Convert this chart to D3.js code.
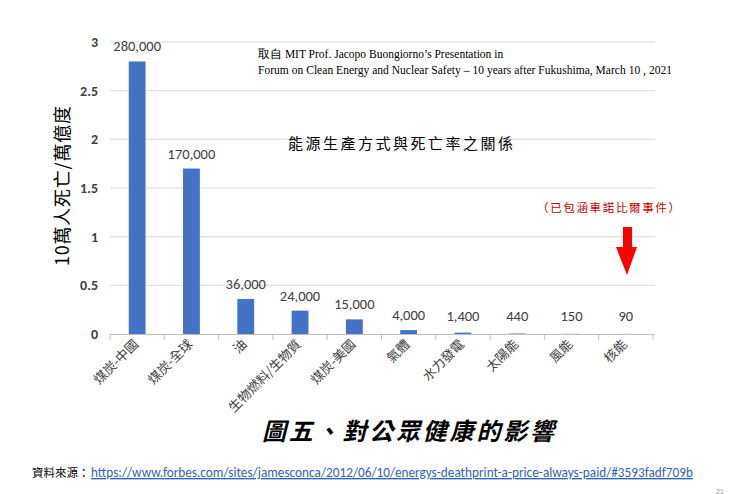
<!DOCTYPE html>
<html><head><meta charset="utf-8">
<script src="https://cdn.jsdelivr.net/npm/d3@7"></script>
<style>
body{margin:0;background:#fff;}
svg{display:block;}
</style></head>
<body><svg id="c" width="731" height="494"></svg>
<script>
const categories = ["煤炭-中國","煤炭-全球","油","生物燃料/生物質","煤炭-美國","氣體","水力發電","太陽能","風能","核能"];
const values = [2.8, 1.7, 0.36, 0.24, 0.15, 0.04, 0.014, 0.0044, 0.0015, 0.0009];
const valueLabels = ["280,000","170,000","36,000","24,000","15,000","4,000","1,400","440","150","90"];
const yTicks = [0, 0.5, 1, 1.5, 2, 2.5, 3];

const svg = d3.select("#c");
const pL = 110, pR = 653, pT = 42, pB = 334;
const x = d3.scaleBand().domain(categories).range([pL, pR]).paddingInner(0.69).paddingOuter(0.345);
const xb = d3.scaleBand().domain(categories).range([pL, pR]);
const y = d3.scaleLinear().domain([0, 3]).range([pB, pT]);

// gridlines
svg.append("g").selectAll("line").data(yTicks.filter(d=>d>0)).join("line")
  .attr("x1", pL).attr("x2", pR+2).attr("y1", d=>y(d)).attr("y2", d=>y(d))
  .attr("stroke", "#d9d9d9").attr("stroke-width", 1);

// y axis labels
const ya = svg.append("g").attr("transform", `translate(${pL},0)`)
  .call(d3.axisLeft(y).tickValues(yTicks).tickSize(0).tickPadding(12).tickFormat(d=>String(d)));
ya.select(".domain").remove();
ya.selectAll("text").attr("font-family","Carlito, 'Liberation Sans', Arial, sans-serif")
  .attr("font-size", 14).attr("font-weight","bold").attr("fill","#404040");

// x axis
const xa = svg.append("g").attr("transform", `translate(0,${pB})`)
  .call(d3.axisBottom(x).tickSize(0).tickFormat(""));
xa.select(".domain").attr("d", `M${pL},0.5H${pR+2}`).attr("stroke","#bfbfbf");
// tick marks at band boundaries
svg.append("g").selectAll("line").data(categories.concat(["_end"])).join("line")
  .attr("x1", (d,i)=> i<categories.length ? xb(d) : pR)
  .attr("x2", (d,i)=> i<categories.length ? xb(d) : pR)
  .attr("y1", pB).attr("y2", pB+6).attr("stroke","#bfbfbf");

// category labels rotated
svg.append("g").selectAll("text").data(categories).join("text")
  .attr("transform", d=>`translate(${x(d)+x.bandwidth()/2+2},${pB+11}) rotate(-45)`)
  .attr("text-anchor","end")
  .attr("font-family","'Noto Sans CJK TC', sans-serif").attr("font-size", 13)
  .attr("fill","#404040").text(d=>d);

// bars
svg.append("g").selectAll("rect").data(categories).join("rect")
  .attr("x", d=>x(d)).attr("width", x.bandwidth())
  .attr("y", (d,i)=>y(values[i])).attr("height", (d,i)=>pB - y(values[i]))
  .attr("fill","#4472c4");

// value labels
svg.append("g").selectAll("text").data(categories).join("text")
  .attr("x", d=>x(d)+x.bandwidth()/2)
  .attr("y", (d,i)=>Math.min(y(values[i]) - 10, pB - 13))
  .attr("text-anchor","middle")
  .attr("font-family","Carlito, 'Liberation Sans', Arial, sans-serif").attr("font-size", 14.5)
  .attr("fill","#404040").text((d,i)=>valueLabels[i]);

// y axis title
svg.append("text").attr("transform", `translate(69,186) rotate(-90)`)
  .attr("text-anchor","middle")
  .attr("font-family","'Noto Sans CJK TC', serif").attr("font-size", 18)
  .attr("textLength",160).attr("lengthAdjust","spacing")
  .attr("fill","#000").text("10萬人死亡/萬億度");

// source annotation
svg.append("text").attr("x",258).attr("y",58)
  .attr("font-family","'Liberation Serif','Times New Roman', serif").attr("font-size",11.5)
  .attr("fill","#000").text("取自 MIT Prof. Jacopo Buongiorno’s  Presentation  in");
svg.append("text").attr("x",258).attr("y",74)
  .attr("font-family","'Liberation Serif','Times New Roman', serif").attr("font-size",11.5)
  .attr("textLength", 414).attr("lengthAdjust","spacing")
  .attr("fill","#000").text("Forum  on  Clean  Energy  and  Nuclear  Safety  – 10 years  after  Fukushima,  March  10 , 2021");

// subtitle inside chart
svg.append("text").attr("x",288).attr("y",149)
  .attr("font-family","'Noto Sans CJK TC', serif").attr("font-size",15)
  .attr("textLength",225).attr("lengthAdjust","spacing")
  .attr("fill","#000").text("能源生產方式與死亡率之關係");

// red note
svg.append("text").attr("x",537).attr("y",212)
  .attr("font-family","'Noto Sans CJK TC', serif").attr("font-size",11.5)
  .attr("textLength",143).attr("lengthAdjust","spacing")
  .attr("fill","#c00000").text("（已包涵車諾比爾事件）");

// red arrow
svg.append("path")
  .attr("d","M623,227 H632 V247 H637 L627,275 L616,247 H623 Z")
  .attr("fill","#ff0000");

// figure title
svg.append("text").attr("x",408).attr("y",440).attr("text-anchor","middle")
  .attr("font-family","'Noto Sans CJK TC', serif").attr("font-size",24)
  .attr("font-style","italic").attr("font-weight","bold")
  .attr("textLength",292).attr("lengthAdjust","spacing")
  .attr("fill","#000").text("圖五、對公眾健康的影響");

// source footer
svg.append("text").attr("x",32).attr("y",477)
  .attr("font-family","'Noto Sans CJK TC', sans-serif").attr("font-size",11.5)
  .attr("fill","#000").text("資料來源：");
svg.append("text").attr("x",91).attr("y",477)
  .attr("font-family","Carlito, 'Liberation Sans', Arial, sans-serif").attr("font-size",13.5)
  .attr("textLength",602).attr("lengthAdjust","spacingAndGlyphs")
  .attr("fill","#2e64b4").attr("text-decoration","underline")
  .text("https://www.forbes.com/sites/jamesconca/2012/06/10/energys-deathprint-a-price-always-paid/#3593fadf709b");

// page number
svg.append("text").attr("x",716).attr("y",494)
  .attr("font-family","'Liberation Sans', sans-serif").attr("font-size",7)
  .attr("fill","#999").text("21");
</script></body></html>
